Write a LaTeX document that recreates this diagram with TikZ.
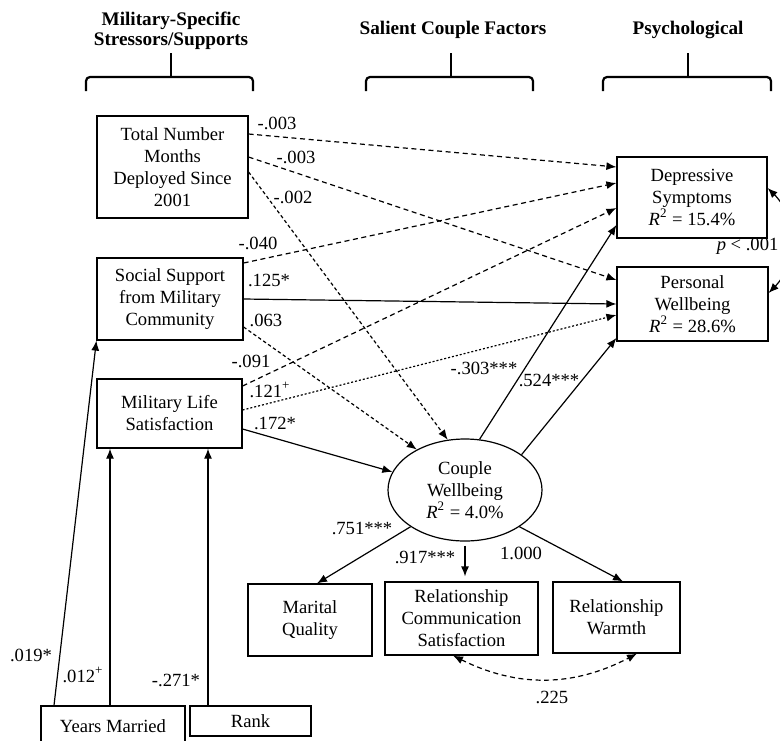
\documentclass[tikz,border=0pt]{standalone}
\usepackage{fontspec}
\setmainfont{Liberation Serif}
\usetikzlibrary{shapes.geometric, arrows.meta, positioning}

\tikzset{
  box/.style={draw, rectangle},
  latent/.style={draw, ellipse},
  head/.style={font=\fontsize{9.6}{10}\selectfont\bfseries},
  bracket/.style={line width=1.1pt, rounded corners=2pt},
  dashline/.style={dash pattern=on 2.5pt off 1.8pt},
  fineline/.style={dash pattern=on 1.7pt off 1.3pt},
  dotline/.style={dash pattern=on 1pt off 1pt}
}

\begin{document}
\begin{tikzpicture}[x=0.5pt, y=-0.5pt, line width=0.6pt, >={Latex[length=5pt,width=4pt]},
    every node/.style={font=\fontsize{9.3}{11}\selectfont, align=center, inner sep=0pt}]
        \useasboundingbox (0,0) rectangle (780,740);

        % column headers
        \node[head] (hmil) at (171,31) {Military-Specific\\Stressors/Supports};
        \node[head] (hcpl) at (453,30) {Salient Couple Factors};
        \node[head] (hpsy) at (688,30) {Psychological};
        \draw[bracket] (86,91) -- (86,77) -- (253,77) -- (253,91);
        \draw[bracket] (171,77) -- (171,53);
        \draw[bracket] (366,91) -- (366,77) -- (533,77) -- (533,91);
        \draw[bracket] (451,77) -- (451,53);
        \draw[bracket] (603,91) -- (603,77) -- (771,77) -- (771,91);
        \draw[bracket] (688,77) -- (688,53);

        % variables
        \node[box, minimum width=75.5pt, minimum height=51pt] (tnm) at (172.5,167) {Total Number\\Months\\Deployed Since\\2001};
        \node[box, minimum width=73pt, minimum height=41pt] (ssm) at (170,299) {Social Support\\from Military\\Community};
        \node[box, minimum width=72.5pt, minimum height=34.5pt] (mls) at (169.5,413.5) {Military Life\\Satisfaction};
        \node[box, minimum width=75pt, minimum height=40.5pt] (dep) at (692,197.5) {Depressive\\Symptoms\\\textit{R}\textsuperscript{2} = 15.4\%};
        \node[box, minimum width=75.5pt, minimum height=37pt] (pwb) at (692.5,304) {Personal\\Wellbeing\\\textit{R}\textsuperscript{2} = 28.6\%};
        \node[latent, minimum width=77pt, minimum height=51pt] (cwb) at (465,490) {Couple\\Wellbeing\\\textit{R}\textsuperscript{2} = 4.0\%};
        \node[box, minimum width=62pt, minimum height=36pt] (mq) at (310,620) {Marital\\Quality};
        \node[box, minimum width=76.5pt, minimum height=36.5pt] (rcs) at (461.5,618.5) {Relationship\\Communication\\Satisfaction};
        \node[box, minimum width=63.5pt, minimum height=35.5pt] (rw) at (616.5,617.5) {Relationship\\Warmth};
        \node[box, minimum width=72pt, minimum height=20pt] (ym) at (113,726) {Years Married};
        \node[box, minimum width=60.5pt, minimum height=15pt] (rank) at (250.5,721) {Rank};

        % paths
        \draw[->, dashline] ([yshift=16.5pt]tnm.east) -- ([yshift=15.25pt]dep.west);
        \draw[->, dashline] ([yshift=5pt]tnm.east) -- ([yshift=12pt]pwb.west);
        \draw[->, fineline] ([yshift=-2.5pt]tnm.east) -- (cwb.109);
        \draw[->, dashline] ([yshift=18pt]ssm.east) -- ([yshift=7.25pt]dep.west);
        \draw[->] (ssm.east) -- (pwb.west);
        \draw[->, fineline] ([yshift=-14pt]ssm.east) -- (cwb.140);
        \draw[->, dashline] ([yshift=13.75pt]mls.east) -- ([yshift=-5.25pt]dep.west);
        \draw[->, dotline] ([yshift=1.75pt]mls.east) -- ([yshift=-5.5pt]pwb.west);
        \draw[->] ([yshift=-7.75pt]mls.east) -- (cwb.166);
        \draw[->] (cwb.74) -- ([yshift=-13.75pt]dep.west);
        \draw[->] (cwb.32) -- ([yshift=-17pt]pwb.west);
        \draw[->] (cwb.214) -- ([xshift=3.5pt]mq.north);
        \draw[->, shorten <=2pt, shorten >=2.5pt] (cwb.south) -- (cwb.south |- rcs.north);
        \draw[->] (cwb.326) -- ([xshift=3.25pt]rw.north);
        \draw[<->, dashline] ([xshift=-4.25pt]rcs.south) to[bend right=27] ([xshift=10.25pt]rw.south);
        \draw[<->] ([yshift=4.75pt]dep.east) to[bend left=45] ([yshift=5.5pt]pwb.east);
        \draw[->] ([xshift=-29.5pt]ym.north) -- (ssm.south west);
        \draw[->] ([xshift=-1.5pt]ym.north) -- ([xshift=-1.5pt]ym.north |- mls.south);
        \draw[->] ([xshift=-21.25pt]rank.north) -- ([xshift=-21.25pt]rank.north |- mls.south);

        % coefficients
        \node (wTnmDep) at (277,123) {-.003};
        \node (wTnmPwb) at (296,157) {-.003};
        \node (wTnmCwb) at (293,197) {-.002};
        \node (wSsmDep) at (258,243) {-.040};
        \node (wSsmPwb) at (269,280) {.125*};
        \node (wSsmCwb) at (266,320) {.063};
        \node (wMlsDep) at (251,361) {-.091};
        \node (wMlsPwb) at (270,390) {.121\textsuperscript{+}};
        \node (wMlsCwb) at (275,423) {.172*};
        \node (wCwbDep) at (484,368) {-.303***};
        \node (wCwbPwb) at (549,380) {.524***};
        \node (wCwbMq) at (362,528) {.751***};
        \node (wCwbRcs) at (425,557) {.917***};
        \node (wCwbRw) at (521,553) {1.000};
        \node (wRcsRw) at (552,697) {.225};
        \node[anchor=east] (wDepPwb) at (779,246) {\textit{p} < .001};
        \node (wYmSsm) at (31,655) {.019*};
        \node (wYmMls) at (83,675) {.012\textsuperscript{+}};
        \node (wRankMls) at (176,680) {-.271*};
    \end{tikzpicture}
\end{document}
